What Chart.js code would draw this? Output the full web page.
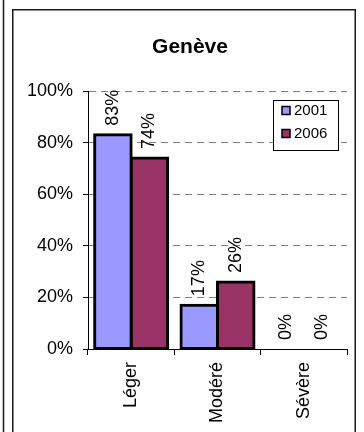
<!DOCTYPE html>
<html>
<head>
<meta charset="utf-8">
<script src="https://cdn.jsdelivr.net/npm/chart.js@4"></script>
<style>
  html, body { margin: 0; padding: 0; background: #fff; }
  #wrap { width: 364px; height: 432px; position: relative; }
</style>
</head>
<body>
<div id="wrap"><canvas id="c" width="364" height="432"></canvas></div>
<script>
const title = 'Genève';
const categories = ['Léger', 'Modéré', 'Sévère'];
const seriesNames = ['2001', '2006'];
const values2001 = [83, 17, 0];
const values2006 = [74, 26, 0];
const yTicks = [0, 20, 40, 60, 80, 100];
const seriesColors = ['#9999FF', '#993366'];

const FONT = '"Liberation Sans", Arial, sans-serif';

const framePlugin = {
  id: 'frame',
  afterLayout(chart) {
    if (chart.titleBlock) { chart.titleBlock.left = 33; }
  },
  beforeDraw(chart) {
    const ctx = chart.ctx;
    ctx.save();
    ctx.fillStyle = '#fff';
    ctx.fillRect(0, 0, chart.width, chart.height);
    ctx.strokeStyle = '#1a1a1a';
    ctx.lineWidth = 1.5;
    ctx.beginPath();
    ctx.moveTo(3.5, 0); ctx.lineTo(3.5, chart.height);
    ctx.moveTo(12.75, chart.height); ctx.lineTo(12.75, 9.75); ctx.lineTo(355.25, 9.75); ctx.lineTo(355.25, chart.height);
    ctx.stroke();
    ctx.restore();
  }
};

const labelPlugin = {
  id: 'valueLabels',
  afterDatasetsDraw(chart) {
    const ctx = chart.ctx;
    ctx.save();
    ctx.font = '18px ' + FONT;
    ctx.fillStyle = '#000';
    ctx.textAlign = 'left';
    ctx.textBaseline = 'middle';
    chart.data.datasets.forEach((ds, di) => {
      const meta = chart.getDatasetMeta(di);
      meta.data.forEach((el, i) => {
        ctx.save();
        ctx.translate(el.x, el.y - 9);
        ctx.rotate(-Math.PI / 2);
        ctx.fillText(ds.data[i] + '%', 0, 0);
        ctx.restore();
      });
    });
    ctx.restore();
  }
};

const legendPlugin = {
  id: 'boxLegend',
  afterDraw(chart) {
    const ctx = chart.ctx;
    ctx.save();
    const bx = 273.5, by = 100.5, bw = 65, bh = 50;
    ctx.fillStyle = '#fff';
    ctx.fillRect(bx, by, bw, bh);
    ctx.strokeStyle = '#000';
    ctx.lineWidth = 1;
    ctx.strokeRect(bx, by, bw, bh);
    ctx.font = '15px ' + FONT;
    ctx.textAlign = 'left';
    ctx.textBaseline = 'middle';
    chart.data.datasets.forEach((ds, i) => {
      const y = 110.5 + i * 23;
      ctx.fillStyle = ds.backgroundColor;
      ctx.fillRect(282, y - 4, 8, 8);
      ctx.lineWidth = 1.5;
      ctx.strokeStyle = '#000';
      ctx.strokeRect(282, y - 4, 8, 8);
      ctx.fillStyle = '#000';
      ctx.fillText(ds.label, 294, y + 0.5);
    });
    ctx.restore();
  }
};

const datasets = [values2001, values2006].map((vals, i) => ({
  label: seriesNames[i],
  data: vals,
  backgroundColor: seriesColors[i],
  borderColor: '#000',
  borderWidth: 3,
  borderSkipped: false,
  inflateAmount: 1.5,
  categoryPercentage: 0.846,
  barPercentage: 1.0
}));

new Chart(document.getElementById('c'), {
  type: 'bar',
  data: { labels: categories, datasets },
  plugins: [framePlugin, labelPlugin, legendPlugin],
  options: {
    responsive: false,
    animation: false,
    devicePixelRatio: 1,
    layout: { padding: { left: 0, right: 17, top: 0, bottom: 0 } },
    plugins: {
      legend: { display: false },
      tooltip: { enabled: false },
      title: {
        display: true,
        text: title,
        color: '#000',
        font: { family: FONT, size: 21, weight: 'bold', lineHeight: 1.2 },
        padding: { top: 34.9, bottom: 30.9 }
      }
    },
    scales: {
      x: {
        afterFit(scale) { scale.height = 83; },
        grid: { display: true, drawOnChartArea: false, offset: true, tickLength: 6, color: '#000', tickColor: '#000', lineWidth: 1 },
        border: { display: true, color: '#000', width: 1 },
        ticks: {
          color: '#000',
          font: { family: FONT, size: 18 },
          minRotation: 90, maxRotation: 90,
          autoSkip: false,
          padding: 7
        }
      },
      y: {
        min: 0, max: 100,
        afterFit(scale) { scale.width = 88; },
        afterBuildTicks(scale) { scale.ticks = yTicks.map(v => ({ value: v })); },
        grid: { color: '#808080', lineWidth: 1, tickLength: 5, tickColor: '#000', tickBorderDash: [], drawTicks: true },
        border: { display: true, color: '#000', width: 1, dash: [7, 5] },
        ticks: {
          color: '#000',
          font: { family: FONT, size: 18 },
          padding: 10,
          crossAlign: 'near',
          callback: v => v + '%'
        }
      }
    }
  }
});
</script>
</body>
</html>
